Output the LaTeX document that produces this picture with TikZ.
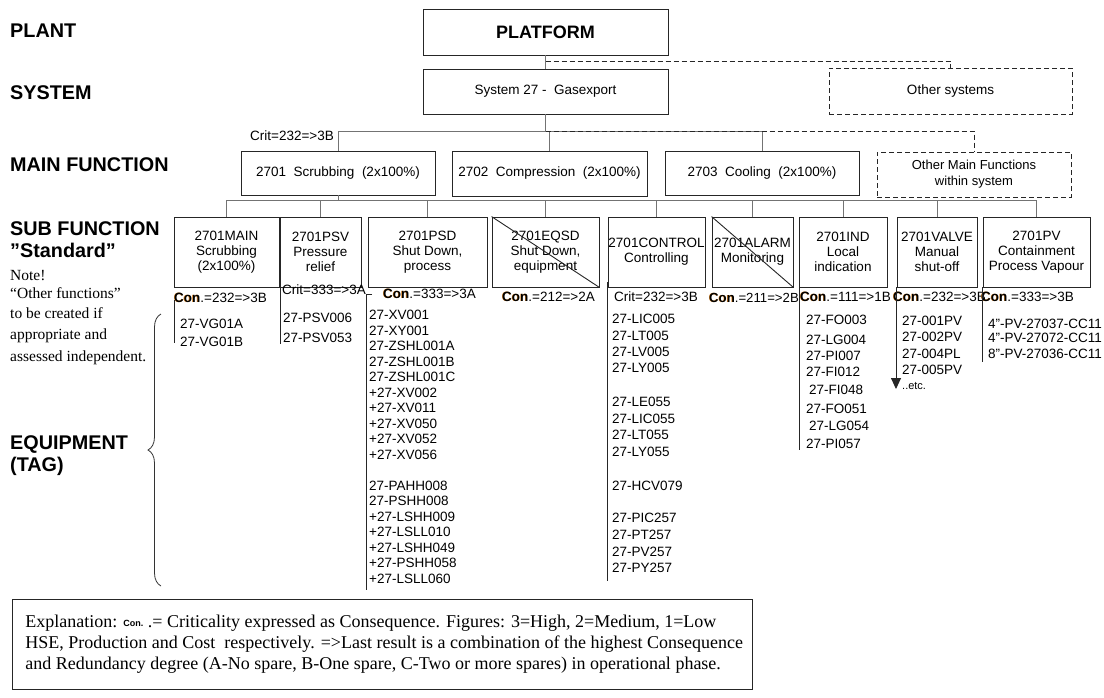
\documentclass[tikz,border=0pt]{standalone}
\usepackage{fontspec}
\setmainfont{Liberation Serif}
\setsansfont{Liberation Sans}
\usetikzlibrary{decorations.pathreplacing,arrows.meta}
\definecolor{conorange}{RGB}{232,140,36}
% bold "Con" with an orange halo, as used in the criticality labels
\newcommand\conmark{\makebox[0pt][l]{\hspace{-0.7pt}\raisebox{0.6pt}{\textcolor{conorange}{\bfseries Con}}}{\bfseries Con}}
\begin{document}
\begin{tikzpicture}[x=1pt,y=-1pt,
  every node/.style={inner sep=0pt, font=\sffamily\fontsize{13.5}{15}\selectfont},
  box/.style={draw=black!85, line width=0.9pt, align=center},
  ghostbox/.style={draw=black!85, line width=0.9pt, dash pattern=on 5pt off 3pt, align=center},
  wire/.style={draw=black!55, line width=1pt},
  dashwire/.style={draw=black!85, line width=0.9pt, dash pattern=on 5pt off 3pt},
  rule/.style={draw=black!85, line width=0.9pt},
  level/.style={anchor=west, text height=14pt, text depth=0pt, font=\sffamily\bfseries\fontsize{19.8}{22}\selectfont},
  remark/.style={anchor=west, text height=10.5pt, text depth=3pt, font=\rmfamily\fontsize{15.5}{18}\selectfont},
  eqtag/.style={anchor=west, text height=9.7pt, text depth=0pt},
  critlab/.style={anchor=west, text height=9.7pt, text depth=0pt},
]
\useasboundingbox (0,0) rectangle (1104,697);
\clip (0,0) rectangle (1104,697);
\fill[white] (0,0) rectangle (1104,697);

% ---- level headings -------------------------------------------------
\node[level] (lvPlant)  at (10,30)  {PLANT};
\node[level] (lvSystem) at (10,92)  {SYSTEM};
\node[level] (lvMain)   at (10,164) {MAIN FUNCTION};
\node[level] (lvSub)    at (10,228) {SUB FUNCTION};
\node[level] (lvStd)    at (10,250) {”Standard”};
\node[remark] (nt1) at (10,277) {Note!};
\node[remark] (nt2) at (10,295) {“Other functions”};
\node[remark] (nt3) at (10,315) {to be created if};
\node[remark] (nt4) at (10,336) {appropriate and};
\node[remark] (nt5) at (10,358) {assessed independent.};
\node[level] (lvEq)  at (10,442) {EQUIPMENT};
\node[level] (lvTag) at (10,464) {(TAG)};

% ---- plant and system -----------------------------------------------
\node[box, minimum width=245pt, minimum height=46pt,
      font=\sffamily\bfseries\fontsize{18}{20}\selectfont] (platform) at (545.5,32) {PLATFORM};
\node[box, minimum width=245pt, minimum height=45pt] (system) at (545.5,91.5) {System 27 -\ \ Gasexport};
\node[ghostbox, minimum width=243pt, minimum height=46pt] (othersys) at (950.5,91) {Other systems};

\coordinate (pj) at (545.5,61);
\draw[wire] (platform.south) -- (system.north);
\draw[dashwire] (pj) -| (othersys.north);

% ---- main functions -------------------------------------------------
\node[box, minimum width=194pt, minimum height=44pt] (mf1) at (338,173) {2701\ \ Scrubbing\ \ (2x100\%)};
\node[box, minimum width=195pt, minimum height=45pt] (mf2) at (549.5,173.5) {2702\ \ Compression\ \ (2x100\%)};
\node[box, minimum width=194pt, minimum height=44pt] (mf3) at (762,173) {2703\ \ Cooling\ \ (2x100\%)};
\node[ghostbox, minimum width=194pt, minimum height=45pt,
      font=\sffamily\fontsize{13}{16}\selectfont] (mfo) at (974,174.5) {Other Main Functions\\within system};
\node[critlab] (mf1crit) at (250,136) {Crit=232=>3B};

\coordinate (mbus) at (545.5,131);
\draw[wire] (system.south) -- (mbus);
\draw[wire] (mf1.north) -- (mf1.north |- mbus) -- (mf3.north |- mbus) -- (mf3.north);
\draw[wire] (mf2.north) -- (mf2.north |- mbus);
\draw[dashwire] (mbus) -| (mfo.north);

% ---- sub functions --------------------------------------------------
\node[box, minimum width=105pt, minimum height=70pt] (sMAIN)  at (226.5,252) {2701MAIN\\Scrubbing\\(2x100\%)};
\node[box, minimum width=81pt,  minimum height=70pt] (sPSV)   at (320.5,252) {2701PSV\\Pressure\\relief};
\node[box, minimum width=119pt, minimum height=70pt] (sPSD)   at (427.5,252) {2701PSD\\Shut Down,\\process};
\node[box, minimum width=107pt, minimum height=70pt] (sEQSD)  at (545.5,252) {2701EQSD\\Shut Down,\\equipment};
\node[box, minimum width=97pt,  minimum height=70pt] (sCTRL)  at (656.5,252) {2701CONTROL\\Controlling};
\node[box, minimum width=81pt,  minimum height=70pt] (sALARM) at (752.5,252) {2701ALARM\\Monitoring};
\node[box, minimum width=88pt,  minimum height=70pt] (sIND)   at (843,252)   {2701IND\\Local\\indication};
\node[box, minimum width=80pt,  minimum height=70pt] (sVALVE) at (937,252)   {2701VALVE\\Manual\\shut-off};
\node[box, minimum width=107pt, minimum height=70pt] (sPV)    at (1036.5,252){2701PV\\Containment\\Process Vapour};

% struck-out sub functions
\draw[rule] (sEQSD.north west) -- (sEQSD.south east);
\draw[rule] (sALARM.north west) -- (sALARM.south east);

\coordinate (sbus) at (338,200);
\draw[wire] (mf1.south) -- (sbus);
\draw[wire] (sMAIN.north) -- (sMAIN.north |- sbus) -- (sPV.north |- sbus) -- (sPV.north);
\foreach \n in {sPSV,sPSD,sEQSD,sCTRL,sALARM,sIND,sVALVE}
  \draw[wire] (\n.north) -- (\n.north |- sbus);

% ---- criticality labels ---------------------------------------------
\node[critlab] (cMAIN)  at (174,298) {\conmark.=232=>3B};
\node[critlab] (cPSV)   at (282,290) {Crit=333=>3A};
\node[critlab] (cPSD)   at (383,294) {\conmark.=333=>3A};
\node[critlab] (cEQSD)  at (502,297) {\conmark.=212=>2A};
\node[critlab] (cCTRL)  at (614,297) {Crit=232=>3B};
\node[critlab, font=\sffamily\fontsize{13.2}{15}\selectfont] (cALARM) at (709,298) {\conmark.=211=>2B};
\node[critlab] (cIND)   at (800,297) {\conmark.=111=>1B};
\node[critlab] (cVALVE) at (893,297) {\conmark.=232=>3B};
\node[critlab] (cPV)    at (981,297) {\conmark.=333=>3B};

% ---- equipment tag lists --------------------------------------------
\coordinate (mainA) at (174,300);   \coordinate (mainB) at (174,343);
\coordinate (psvA)  at (280,287);   \coordinate (psvB)  at (280,344);
\coordinate (psdA)  at (366,294);   \coordinate (psdB)  at (366,590);
\coordinate (psdT)  at (372,294);
\coordinate (ctlA)  at (607,282);   \coordinate (ctlB)  at (607,581);
\coordinate (indA)  at (799,287);   \coordinate (indB)  at (799,450);
\coordinate (valA)  at (896,287);   \coordinate (valB)  at (896,389);
\coordinate (pvA)   at (982,287);   \coordinate (pvB)   at (982,362);
\draw[rule] (mainA) -- (mainB);
\draw[rule] (psvA) -- (psvB);
\draw[rule] (psdT) -- (psdA) -- (psdB);
\draw[rule] (ctlA) -- (ctlB);
\draw[rule] (indA) -- (indB);
\draw[rule, -{Triangle[width=10pt,length=11pt]}] (valA) -- (valB);
\draw[rule] (pvA) -- (pvB);

\foreach \t/\y [count=\i] in {27-VG01A/324, 27-VG01B/342}
  \node[eqtag] (tMAIN\i) at (180,\y) {\t};
\foreach \t/\y [count=\i] in {27-PSV006/318, 27-PSV053/338}
  \node[eqtag] (tPSV\i) at (283,\y) {\t};
\foreach \t/\y [count=\i] in {27-XV001/315, 27-XY001/330.5, 27-ZSHL001A/346, 27-ZSHL001B/361.5,
    27-ZSHL001C/377, +27-XV002/392.5, +27-XV011/408, +27-XV050/423.5, +27-XV052/439,
    +27-XV056/454.5, 27-PAHH008/485.5, 27-PSHH008/501, +27-LSHH009/516.5,
    +27-LSLL010/532, +27-LSHH049/547.5, +27-PSHH058/563, +27-LSLL060/578.5}
  \node[eqtag] (tPSD\i) at (369,\y) {\t};
\foreach \t/\y [count=\i] in {27-LIC005/319, 27-LT005/336, 27-LV005/352, 27-LY005/368,
    27-LE055/402, 27-LIC055/419, 27-LT055/435, 27-LY055/452, 27-HCV079/486,
    27-PIC257/518, 27-PT257/535, 27-PV257/552, 27-PY257/568}
  \node[eqtag] (tCTRL\i) at (612,\y) {\t};
\foreach \t/\x/\y [count=\i] in {27-FO003/806/320, 27-LG004/806/340, 27-PI007/806/356,
    27-FI012/806/372, 27-FI048/809/390, 27-FO051/806/409, 27-LG054/809/426, 27-PI057/806/444}
  \node[eqtag] (tIND\i) at (\x,\y) {\t};
\foreach \t/\y [count=\i] in {27-001PV/321, 27-002PV/337, 27-004PL/354, 27-005PV/370}
  \node[eqtag] (tVALVE\i) at (902,\y) {\t};
\node[anchor=west, font=\sffamily\fontsize{11}{12}\selectfont] (etc) at (902,386) {..etc.};
\foreach \t/\y [count=\i] in {4"-PV-27037-CC11/324, 4"-PV-27072-CC11/338, 8"-PV-27036-CC11/354}
  \node[eqtag] (tPV\i) at (988,\y) {\t};

% ---- brace gathering the equipment level ----------------------------
\coordinate (braceBot) at (161,586);
\coordinate (braceTop) at (161,314);
\draw[black!80, line width=0.8pt, decorate, decoration={brace, amplitude=13pt}] (braceBot) -- (braceTop);

% ---- explanation ----------------------------------------------------
\node[draw=black!85, line width=0.9pt, anchor=north west, minimum height=90pt,
      minimum width=740pt, inner xsep=13pt, align=left,
      font=\rmfamily\fontsize{18}{21.5}\selectfont] (expl) at (12,599)
  {\makebox[714pt][l]{Explanation: \raisebox{1.5pt}{\sffamily\bfseries\fontsize{9}{9}\selectfont Con.} .= Criticality expressed as Consequence. Figures: 3=High, 2=Medium, 1=Low}\\[-0.5pt]
   \makebox[714pt][l]{HSE, Production and Cost\ \ respectively. =>Last result is a combination of the highest Consequence}\\[-0.5pt]
   \makebox[714pt][l]{and Redundancy degree (A-No spare, B-One spare, C-Two or more spares) in operational phase.}};
\end{tikzpicture}
\end{document}
